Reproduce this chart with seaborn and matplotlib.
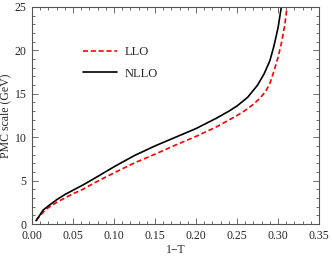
import pandas as pd
import seaborn as sns
import matplotlib
matplotlib.use("Agg")
import matplotlib.pyplot as plt
from matplotlib.ticker import MultipleLocator, FormatStrFormatter

# 1-T values and PMC scale (GeV)
llo_x = [0.005, 0.01, 0.015, 0.02, 0.03, 0.04, 0.05, 0.062, 0.075, 0.10, 0.125, 0.15,
         0.175, 0.20, 0.225, 0.25, 0.26, 0.27, 0.278, 0.285, 0.29, 0.295, 0.3, 0.304,
         0.308, 0.311]
llo_y = [0.4, 1.0, 1.5, 1.9, 2.5, 3.0, 3.5, 4.0, 4.7, 5.9, 7.05, 8.05,
         9.1, 10.1, 11.2, 12.5, 13.1, 13.8, 14.5, 15.3, 16.2, 17.6, 19.2, 20.8,
         22.8, 25.0]
nllo_x = [0.005, 0.01, 0.0134, 0.02, 0.03, 0.04, 0.05, 0.062, 0.075, 0.10, 0.125, 0.15,
          0.175, 0.20, 0.225, 0.24, 0.25, 0.263, 0.275, 0.283, 0.29, 0.295, 0.3,
          0.304]
nllo_y = [0.4, 1.1, 1.6, 2.1, 2.8, 3.4, 3.9, 4.5, 5.2, 6.6, 7.9, 9.0,
          10.0, 11.0, 12.2, 13.0, 13.6, 14.6, 16.0, 17.3, 18.8, 20.5, 22.6,
          25.0]

df = pd.concat([
    pd.DataFrame({"x": llo_x, "y": llo_y, "order": "LLO"}),
    pd.DataFrame({"x": nllo_x, "y": nllo_y, "order": "NLLO"}),
])

sns.set_style("ticks")
plt.rcParams["font.family"] = ["Liberation Serif", "DejaVu Serif"]

fig = plt.figure(figsize=(3.32, 2.57), dpi=100)
ax = fig.add_axes([0.0964, 0.128, 0.8646, 0.845])

sns.lineplot(data=df, x="x", y="y", hue="order", style="order",
             palette={"LLO": "#ff0000", "NLLO": "black"},
             dashes={"LLO": (3, 1.7), "NLLO": ""},
             linewidth=1.2, sort=False, ax=ax)

ax.set_xlim(0, 0.35)
ax.set_ylim(0, 25)
ax.xaxis.set_major_locator(MultipleLocator(0.05))
ax.xaxis.set_minor_locator(MultipleLocator(0.01))
ax.yaxis.set_major_locator(MultipleLocator(5))
ax.yaxis.set_minor_locator(MultipleLocator(1))
ax.xaxis.set_major_formatter(FormatStrFormatter("%.2f"))
ax.tick_params(which="both", direction="in", top=True, right=True, labelsize=8.5,
               color="#555555", width=0.6)
ax.tick_params(axis="x", pad=4)
ax.tick_params(axis="y", pad=4)
ax.tick_params(which="major", length=4)
ax.tick_params(which="minor", length=2)
for s in ax.spines.values():
    s.set_linewidth(0.8)
    s.set_color("#555555")

ax.set_xlabel("1\u2212T", fontsize=8.5, labelpad=2)
ax.set_ylabel("PMC scale (GeV)", fontsize=8.5, labelpad=2)

ax.legend(loc="upper left", bbox_to_anchor=(0.14, 0.87), frameon=False,
          fontsize=9, handlelength=2.7, handletextpad=0.6, labelspacing=0.75)

fig.savefig("out.png", dpi=100)
